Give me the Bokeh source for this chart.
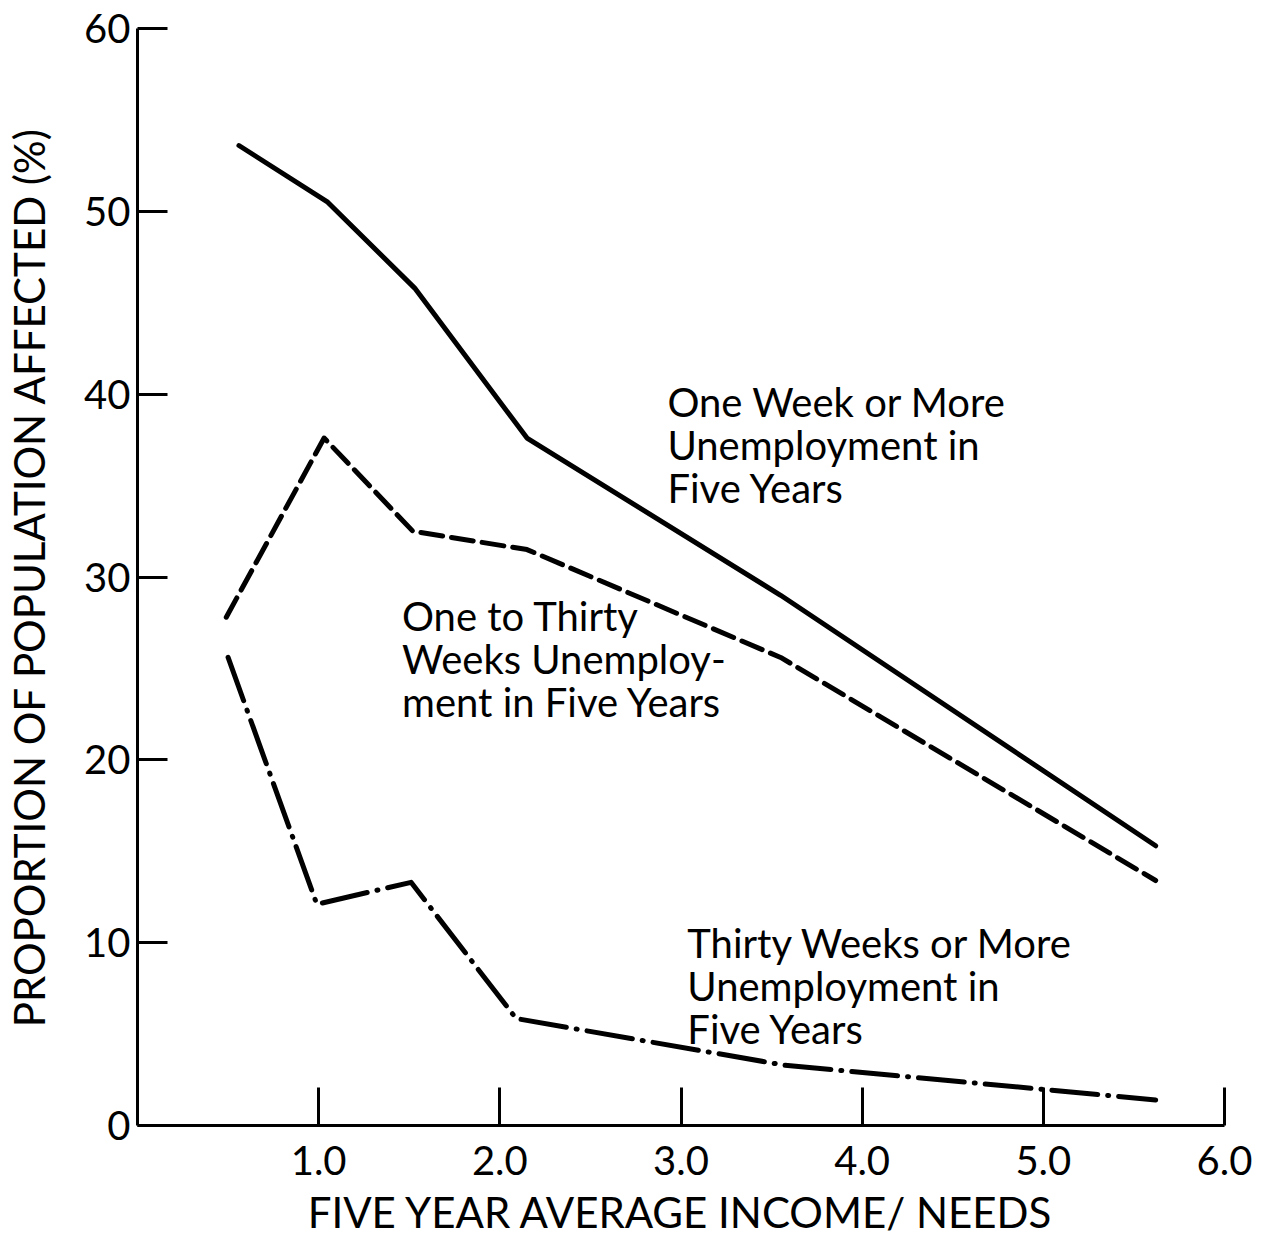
from bokeh.plotting import figure
from bokeh.models import FixedTicker, Range1d
from bokeh.embed import file_html
from bokeh.resources import INLINE
from bokeh.core.properties import value

# Data
x_one_week = [0.56, 1.05, 1.53, 2.15, 3.55, 5.62]
y_one_week = [53.6, 50.5, 45.8, 37.6, 29.0, 15.3]

x_one_to_thirty = [0.49, 1.03, 1.52, 2.15, 3.55, 5.62]
y_one_to_thirty = [27.8, 37.6, 32.5, 31.5, 25.6, 13.4]

x_thirty_more = [0.50, 0.99, 1.51, 2.09, 3.57, 5.62]
y_thirty_more = [25.6, 12.1, 13.3, 5.85, 3.3, 1.4]

x_ticks = [1, 2, 3, 4, 5, 6]
x_tick_labels = ["1.0", "2.0", "3.0", "4.0", "5.0", "6.0"]
y_ticks = [0, 10, 20, 30, 40, 50, 60]

label_x = [2.925, 1.46, 3.035]
label_y = [40.9, 29.2, 11.3]
label_text = [
    "One Week or More\nUnemployment in\nFive Years",
    "One to Thirty\nWeeks Unemploy-\nment in Five Years",
    "Thirty Weeks or More\nUnemployment in\nFive Years",
]

FONT = "Lato"

p = figure(width=1266, height=1239, output_backend="svg", toolbar_location=None,
           x_range=Range1d(0, 6), y_range=Range1d(0, 60),
           min_border_left=137, min_border_right=42, min_border_top=28, min_border_bottom=114)
p.outline_line_color = None
p.grid.visible = False
p.background_fill_color = "white"
p.border_fill_color = "white"

p.line(x_one_week, y_one_week, line_color="black", line_width=5, line_cap="round", line_join="round")
p.line(x_one_to_thirty, y_one_to_thirty, line_color="black", line_width=5,
       line_dash="22 9", line_cap="round", line_join="round")
p.line(x_thirty_more, y_thirty_more, line_color="black", line_width=5,
       line_dash="46 10 1 10", line_cap="round", line_join="round")

p.text(x=label_x, y=label_y, text=label_text, text_font=value(FONT), text_font_size="40px",
       text_color="black", text_baseline="top", text_align="left", text_line_height=0.9)

xa = p.xaxis[0]
xa.ticker = FixedTicker(ticks=x_ticks)
xa.major_label_overrides = {t: l for t, l in zip(x_ticks, x_tick_labels)}
xa.axis_label = "FIVE YEAR AVERAGE INCOME/ NEEDS"
xa.axis_line_width = 3
xa.major_tick_line_width = 3
xa.major_tick_in = 38
xa.major_tick_out = 0
xa.minor_tick_line_color = None
xa.major_label_text_font = FONT
xa.major_label_text_font_size = "40px"
xa.major_label_text_color = "black"
xa.major_label_standoff = 20
xa.axis_label_text_font = FONT
xa.axis_label_text_font_size = "42px"
xa.axis_label_text_color = "black"
xa.axis_label_text_font_style = "normal"
xa.axis_label_standoff = 9

ya = p.yaxis[0]
ya.ticker = FixedTicker(ticks=y_ticks)
ya.axis_label = "PROPORTION OF POPULATION AFFECTED (%)"
ya.axis_line_width = 3
ya.major_tick_line_width = 3
ya.major_tick_in = 30
ya.major_tick_out = 0
ya.minor_tick_line_color = None
ya.major_label_text_font = FONT
ya.major_label_text_font_size = "40px"
ya.major_label_text_color = "black"
ya.major_label_standoff = 7
ya.axis_label_text_font = FONT
ya.axis_label_text_font_size = "42px"
ya.axis_label_text_color = "black"
ya.axis_label_text_font_style = "normal"
ya.axis_label_standoff = 27

open("out.html", "w").write(file_html(p, INLINE))
